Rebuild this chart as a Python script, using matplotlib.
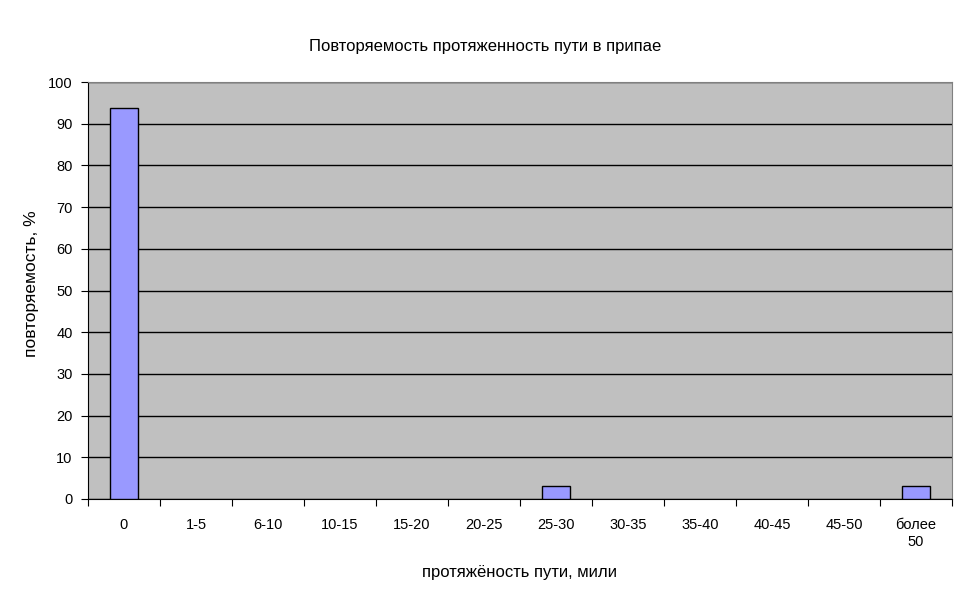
import numpy as np
import matplotlib
matplotlib.use("Agg")
import matplotlib.pyplot as plt

plt.rcParams['font.family'] = ['Liberation Sans', 'DejaVu Sans']

categories = ['0', '1-5', '6-10', '10-15', '15-20', '20-25', '25-30',
              '30-35', '35-40', '40-45', '45-50', 'более\n50']
values = [93.8, 0, 0, 0, 0, 0, 3.1, 0, 0, 0, 0, 3.1]

fig = plt.figure(figsize=(9.69, 6.03), dpi=100)
ax = fig.add_axes([88 / 969, 1 - 499 / 603, (952 - 88) / 969, (499 - 82) / 603])
ax.set_facecolor('#C0C0C0')

x = np.arange(len(categories))
vals = np.array(values)
ax.set_axisbelow(True)
ax.yaxis.grid(True, color='black', linewidth=1)
ax.bar(x[vals > 0], vals[vals > 0],
       width=0.4, color='#9999FF', edgecolor='black', linewidth=1, zorder=3)

ax.set_xlim(-0.5, len(categories) - 0.5)
ax.set_ylim(0, 100)
ax.set_yticks(range(0, 101, 10))
ax.set_xticks(np.arange(-0.5, len(categories)), minor=False)
ax.set_xticklabels([])
ax.set_xticks(x, minor=True)
ax.set_xticklabels(categories, minor=True, fontsize=10.5)
ax.tick_params(axis='x', which='minor', length=0, pad=14)
ax.tick_params(axis='x', which='major', length=5, direction='out', color='black')
ax.tick_params(axis='y', length=5, direction='out', labelsize=10.5, pad=6)

for side in ['top', 'right']:
    ax.spines[side].set_color('#808080')
for side in ['left', 'bottom']:
    ax.spines[side].set_color('black')

fig.text(485 / 969, 1 - 47 / 603, 'Повторяемость протяженность пути в припае',
         ha='center', va='center', fontsize=12)
fig.text(520 / 969, 1 - 572 / 603, 'протяжёность пути, мили',
         ha='center', va='center', fontsize=12)
fig.text(32 / 969, 1 - 284 / 603, 'повторяемость, %', rotation=90,
         ha='center', va='center', fontsize=12.5)

fig.savefig('out.png', dpi=100)
